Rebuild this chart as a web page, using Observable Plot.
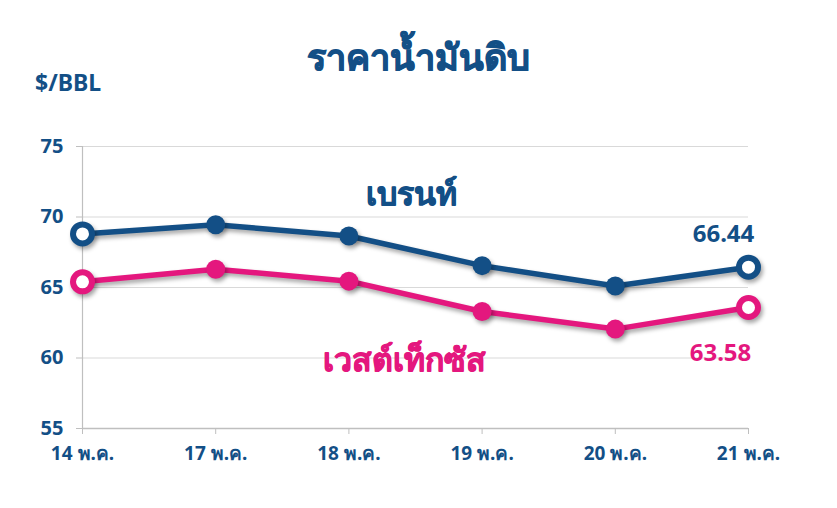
<!DOCTYPE html>
<html><head><meta charset="utf-8">
<script src="https://cdn.jsdelivr.net/npm/d3@7"></script>
<script src="https://cdn.jsdelivr.net/npm/@observablehq/plot@0.6"></script>
<style>
body{margin:0;background:#fff;font-family:"Noto Sans","Open Sans",Tahoma,sans-serif;}
#wrap{width:837px;position:relative}
#head{height:100px;position:relative}
#title{position:absolute;left:0;right:0;top:35px;text-align:center;font-size:36px;font-weight:bold;color:#134f86;line-height:44px;-webkit-text-stroke:1px #134f86}
#unit{position:absolute;left:35px;top:68px;font-size:23px;font-weight:bold;color:#134f86;line-height:28px}
#chart svg{display:block;overflow:visible}
#chart [aria-label="y-axis tick"], #chart [aria-label="x-axis tick"]{stroke:#bfbfbf}
#chart [aria-label="line"], #chart [aria-label="dot"]{filter:drop-shadow(2px 3px 2px rgba(0,0,0,0.35))}
</style></head>
<body>
<div id="wrap">
  <div id="head"><div id="title">ราคาน้ำมันดิบ</div><div id="unit">$/BBL</div></div>
  <div id="chart"></div>
</div>
<script>
const dates = ["14 พ.ค.","17 พ.ค.","18 พ.ค.","19 พ.ค.","20 พ.ค.","21 พ.ค."];
const brent = [68.8, 69.45, 68.65, 66.55, 65.1, 66.44];
const wti = [65.4, 66.3, 65.45, 63.3, 62.05, 63.58];
const seriesNames = ["เบรนท์","เวสต์เท็กซัส"];
const seriesColors = ["#134f86","#e4177e"];
const yTicks = [55,60,65,70,75];
const gridTicks = [60,65,70,75];
// series name label anchors (in data units: day index, price)
const nameLabelX = [2.47, 2.42];
const nameLabelY = [71.55, 59.8];

const navy = seriesColors[0], pink = seriesColors[1];
const rows = [];
[brent, wti].forEach((arr, s) => arr.forEach((v, i) => rows.push({i, v, s: seriesNames[s], end: i === 0 || i === arr.length - 1})));
const last = i => rows.filter(d => d.s === seriesNames[i] && d.i === dates.length - 1);
const nameRows = seriesNames.map((s, k) => ({s, x: nameLabelX[k], y: nameLabelY[k]}));

const chart = Plot.plot({
  width: 837, height: 388,
  marginTop: 46, marginBottom: 60, marginLeft: 82, marginRight: 89,
  style: {fontFamily: '"Noto Sans","Open Sans",Tahoma,sans-serif', fontWeight: "bold", background: "#fff"},
  x: {domain: [0, dates.length - 1], label: null},
  y: {domain: [55, 75], label: null},
  color: {domain: seriesNames, range: seriesColors},
  marks: [
    Plot.ruleY(gridTicks, {stroke: "#d9d9d9", strokeWidth: 1.2}),
    Plot.ruleX([0], {stroke: "#bfbfbf", strokeWidth: 1.2}),
    Plot.ruleY([55], {stroke: "#bfbfbf", strokeWidth: 1.5}),
    Plot.axisY({ticks: yTicks, tickSize: 6, tickPadding: 13, fill: navy, fontSize: 20, label: null}),
    Plot.axisX({ticks: d3.range(dates.length), tickFormat: i => dates[i], tickSize: 6, tickPadding: 12, fill: navy, fontSize: 19, label: null}),
    Plot.line(rows, {x: "i", y: "v", z: "s", stroke: "s", strokeWidth: 5.5}),
    Plot.dot(rows.filter(d => !d.end), {x: "i", y: "v", fill: "s", r: 9.5}),
    Plot.dot(rows.filter(d => d.end), {x: "i", y: "v", stroke: "s", fill: "#fff", r: 9.5, strokeWidth: 6}),
    Plot.text(last(0), {x: "i", y: "v", text: d => d.v.toFixed(2), fill: "s", fontSize: 24, dx: -25, dy: -33}),
    Plot.text(last(1), {x: "i", y: "v", text: d => d.v.toFixed(2), fill: "s", fontSize: 24, dx: -28, dy: 46}),
    Plot.text(nameRows, {x: "x", y: "y", text: "s", fill: "s", stroke: "s", strokeWidth: 0.8, fontSize: 32})
  ]
});
document.getElementById("chart").appendChild(chart);
</script>
</body></html>
